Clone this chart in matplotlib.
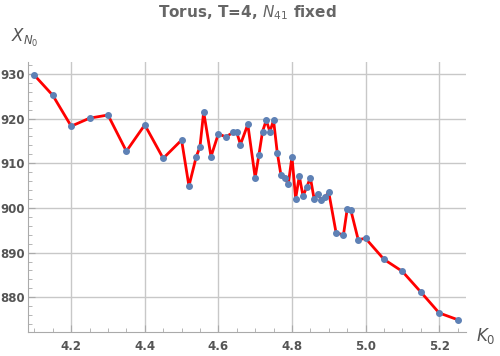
import numpy as np
import matplotlib.pyplot as plt

kappa = [4.10, 4.15, 4.20, 4.25, 4.30, 4.35, 4.40, 4.45, 4.50, 4.52,
         4.54, 4.55, 4.56, 4.58, 4.60, 4.62, 4.64, 4.65, 4.66, 4.68,
         4.70, 4.71, 4.72, 4.73, 4.74, 4.75, 4.76, 4.77, 4.78, 4.79,
         4.80, 4.81, 4.82, 4.83, 4.84, 4.85, 4.86, 4.87, 4.88, 4.89,
         4.90, 4.92, 4.94, 4.95, 4.96, 4.98, 5.00, 5.05, 5.10, 5.15,
         5.20, 5.25]
chi = [929.7, 925.2, 918.3, 920.1, 920.8, 912.7, 918.6, 911.1, 915.2, 904.9,
       911.5, 913.7, 921.5, 911.5, 916.6, 915.9, 916.9, 916.9, 914.2, 918.7,
       906.8, 911.8, 917.1, 919.6, 917.1, 919.6, 912.4, 907.4, 906.8, 905.3,
       911.5, 902.1, 907.1, 902.7, 904.6, 906.8, 902.1, 903.1, 901.8, 902.5,
       903.5, 894.4, 894.0, 899.7, 899.5, 892.9, 893.2, 888.5, 885.8, 881.2,
       876.5, 875.0]
xticks = [4.2, 4.4, 4.6, 4.8, 5.0, 5.2]
yticks = [880, 890, 900, 910, 920, 930]

grey = '#555555'
fig = plt.figure(figsize=(5, 3.56), dpi=100)
ax = fig.add_axes([0.056, 0.067, 0.876, 0.758])

ax.plot(kappa, chi, color='red', lw=2, zorder=3)
ax.plot(kappa, chi, 'o', color='#5E81B5', ms=4, zorder=4, clip_on=False)

ax.set_xlim(4.0826, 5.273)
ax.set_ylim(872.2, 932.6)
ax.set_xticks(xticks)
ax.set_yticks(yticks)
ax.set_xticks(np.arange(4.1, 5.27, 0.05), minor=True)
ax.set_yticks(np.arange(874, 932.5, 2), minor=True)
ax.grid(True, which='major', color='#c8c8c8', lw=1)
ax.set_axisbelow(True)

for s in ['top', 'right']:
    ax.spines[s].set_visible(False)
for s in ['left', 'bottom']:
    ax.spines[s].set_color('#aaaaaa')

ax.tick_params(which='major', direction='in', length=5, color='#aaaaaa',
               labelcolor=grey, labelsize=8.5)
ax.tick_params(which='minor', direction='in', length=3, color='#aaaaaa')
ax.tick_params(axis='y', pad=2)
ax.tick_params(axis='x', pad=6)
ax.set_yticklabels([str(t) for t in yticks], fontweight='bold')
ax.set_xticklabels(['%.1f' % t for t in xticks], fontweight='bold')

fig.text(0.494, 0.965, r'Torus, T=4, $N_{41}$ fixed', ha='center', va='center',
         fontsize=11, fontweight='bold', color='#666666')
fig.text(0.022, 0.893, r'$X_{N_0}$', ha='left', va='center',
         fontsize=12, color=grey)
fig.text(0.952, 0.055, r'$K_0$', ha='left', va='center',
         fontsize=12, color=grey)

fig.savefig('out.png', dpi=100)
